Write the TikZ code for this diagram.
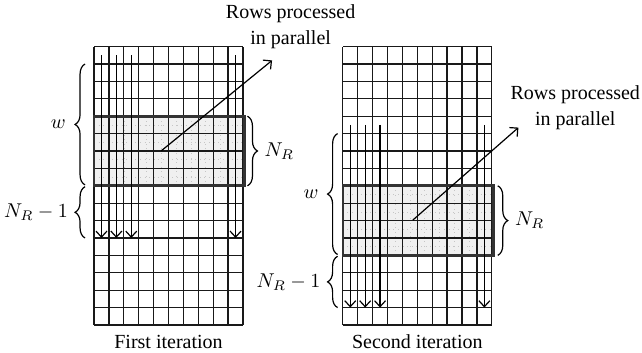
\documentclass[tikz,border=0pt]{standalone}
\usepackage{fontspec}
\setmainfont{Liberation Serif}
\usepackage{tikz}
\usetikzlibrary{arrows.meta, decorations.pathreplacing, positioning}

\tikzset{
  cellline/.style={line width=0.65pt, black!90},
  window/.style={fill=gray!12},
  subgrid/.style={gray!45, dotted, line width=0.3pt},
  winborder/.style={line width=1.3pt, black!80},
  sweep/.style={line width=0.6pt, -{Straight Barb[width=5.5pt,length=3pt]}},
  pointer/.style={line width=0.6pt, -{Straight Barb[width=6pt,length=3pt]}},
  brc/.style={decorate, decoration={brace, amplitude=5pt}, line width=0.6pt},
  lbl/.style={font=\fontsize{10}{13}\selectfont, align=center},
}

\begin{document}
\begin{tikzpicture}[x=0.2619cm, y=0.3058cm]
    \useasboundingbox (-6.31,-1.61) rectangle (36.78,18.68);

    % first iteration
    \fill[window] (0,8) rectangle (10.1,12);
    \foreach \x in {0.5,1,...,9.5} \draw[subgrid] (\x,8) -- (\x,12);
    \foreach \y in {8.5,9,...,11.5} \draw[subgrid] (0,\y) -- (10,\y);
    \foreach \x in {0,...,10} \draw[cellline] (\x,0) -- (\x,16);
    \foreach \y in {0,...,16} \draw[cellline] (0,\y) -- (10,\y);
    \draw[winborder] (0,8) rectangle (10.1,12);
    \foreach \x in {0.5,1.5,2.5,9.5} \draw[sweep] (\x,15.5) -- (\x,5);

    \draw[brc] (-0.6,8.05) -- node[lbl, left=6pt] (wA) {$w$} (-0.6,15);
    \draw[brc] (-0.6,5) -- node[lbl, left=5pt] (nrmA) {$N_R-1$} (-0.6,7.95);
    \draw[brc] (10.3,12) -- node[lbl, right=5pt] (nrA) {$N_R$} (10.3,8);

    \coordinate (srcA) at (4.5,10);
    \node[lbl] (rowsA) at (13.2,17.13) {Rows processed\\in parallel};
    \draw[pointer] (srcA) -- ([shift={(-1.25,-0.25)}]rowsA.south);
    \node[lbl] (capA) at (5,-0.98) {First iteration};

    % second iteration
    \begin{scope}[shift={(16.7,0)}]
        \fill[window] (0,4) rectangle (10.1,8);
        \foreach \x in {0.5,1,...,9.5} \draw[subgrid] (\x,4) -- (\x,8);
        \foreach \y in {4.5,5,...,7.5} \draw[subgrid] (0,\y) -- (10,\y);
        \foreach \x in {0,...,10} \draw[cellline] (\x,0) -- (\x,16);
        \foreach \y in {0,...,16} \draw[cellline] (0,\y) -- (10,\y);
        \draw[winborder] (0,4) rectangle (10.1,8);
        \foreach \x in {0.5,1.5,2.5,9.5} \draw[sweep] (\x,11.5) -- (\x,1);

        \draw[brc] (-0.35,4.05) -- node[lbl, left=6pt] (wB) {$w$} (-0.35,11);
        \draw[brc] (-0.35,1) -- node[lbl, left=5pt] (nrmB) {$N_R-1$} (-0.35,3.95);
        \draw[brc] (10.4,8) -- node[lbl, right=5pt] (nrB) {$N_R$} (10.4,4);

        \coordinate (srcB) at (4.7,6.03);
        \node[lbl] (rowsB) at (15.6,12.47) {Rows processed\\in parallel};
        \draw[pointer] (srcB) -- ([shift={(1,0.55)}]rowsB.south west);
        \node[lbl] (capB) at (5,-0.98) {Second iteration};
    \end{scope}
\end{tikzpicture}
\end{document}
